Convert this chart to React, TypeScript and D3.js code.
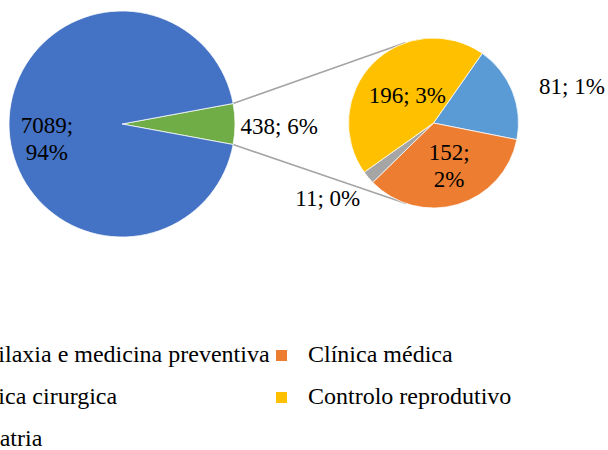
import React from 'react';
import * as d3 from 'd3';

// Main pie: the large category plus the aggregated remainder
const mainCategories = ['Outros', 'Profilaxia e medicina preventiva'];
const mainValues = [438, 7089];
const mainColors = ['#70AD47', '#4472C4'];

// Breakdown of the remainder, drawn in the secondary pie
const subCategories = ['Pediatria', 'Clínica médica', 'Clínica cirurgica', 'Controlo reprodutivo'];
const subValues = [81, 152, 11, 196];
const subColors = ['#5B9BD5', '#ED7D31', '#A5A5A5', '#FFC000'];

// Legend entries (row by row, two columns)
const legendItems = [
  'Profilaxia e medicina preventiva',
  'Clínica médica',
  'Clínica cirurgica',
  'Controlo reprodutivo',
  'Pediatria',
];
const legendColors = ['#4472C4', '#ED7D31', '#A5A5A5', '#FFC000', '#5B9BD5'];

const W = 608;
const H = 450;
const labelStyle: React.CSSProperties = { fontFamily: "'Liberation Serif'", fontSize: 23 };
const legendStyle: React.CSSProperties = { fontFamily: "'Liberation Serif'", fontSize: 24 };

type Pt = { x: number; y: number };

function tangentPoint(p: Pt, c: Pt, r: number, upper: boolean): Pt {
  const dx = p.x - c.x;
  const dy = p.y - c.y;
  const d = Math.hypot(dx, dy);
  const phi = Math.atan2(dy, dx);
  const alpha = Math.acos(r / d);
  const a = upper ? phi + alpha : phi - alpha;
  return { x: c.x + r * Math.cos(a), y: c.y + r * Math.sin(a) };
}

export default function App() {
  const total = d3.sum(mainValues);
  const pctText = (v: number) => `${Math.round((v / total) * 100)}%`;

  // main pie geometry
  const mainC = { x: 122, y: 124 };
  const mainR = 113;
  const otherAngle = (2 * Math.PI * mainValues[0]) / total;
  const mainStart = Math.PI / 2 - otherAngle / 2;
  const mainPie = d3
    .pie<number>()
    .sort(null)
    .startAngle(mainStart)
    .endAngle(mainStart + 2 * Math.PI)(mainValues);
  const mainArc = d3.arc<d3.PieArcDatum<number>>().innerRadius(0).outerRadius(mainR);

  // secondary pie geometry
  const subC = { x: 433.5, y: 123 };
  const subR = 85;
  const subStart = (35 * Math.PI) / 180;
  const subPie = d3
    .pie<number>()
    .sort(null)
    .startAngle(subStart)
    .endAngle(subStart + 2 * Math.PI)(subValues);
  const subArc = d3.arc<d3.PieArcDatum<number>>().innerRadius(0).outerRadius(subR);

  const polar = (c: Pt, r: number, a: number): Pt => ({
    x: c.x + r * Math.sin(a),
    y: c.y - r * Math.cos(a),
  });

  // connector lines from the edges of the aggregated slice to the secondary pie
  const otherSlice = mainPie[0];
  const pTop = polar(mainC, mainR, otherSlice.startAngle);
  const pBot = polar(mainC, mainR, otherSlice.endAngle);
  const tTop = tangentPoint(pTop, subC, subR, true);
  const tBot = tangentPoint(pBot, subC, subR, false);

  // label placement for the secondary slices
  const subLabelLayout: Record<string, { k: number; anchor: string; dx: number; dy: number; split: boolean }> = {
    Pediatria: { k: 1.3, anchor: 'start', dx: 3, dy: 12, split: false },
    'Clínica médica': { k: 0.52, anchor: 'middle', dx: 3, dy: -5, split: true },
    'Clínica cirurgica': { k: 1.2, anchor: 'end', dx: 5, dy: 18, split: false },
    'Controlo reprodutivo': { k: 0.45, anchor: 'middle', dx: 1, dy: 7, split: false },
  };

  const legendRows = [362, 404, 446];
  const legendCols = [-43, 308];

  return (
    <svg width={W} height={H} style={{ position: 'absolute', left: 0, top: 0, background: '#fff' }}>
      <rect width={W} height={H} fill="#fff" />

      {/* connector lines */}
      <line x1={pTop.x} y1={pTop.y} x2={tTop.x} y2={tTop.y} stroke="#A5A5A5" strokeWidth={1.5} />
      <line x1={pBot.x} y1={pBot.y} x2={tBot.x} y2={tBot.y} stroke="#A5A5A5" strokeWidth={1.5} />

      {/* main pie */}
      <g transform={`translate(${mainC.x},${mainC.y})`}>
        {mainPie.map((d, i) => (
          <path key={mainCategories[i]} d={mainArc(d) || ''} fill={mainColors[i]} stroke="#fff" strokeWidth={0.75} />
        ))}
      </g>

      {/* secondary pie */}
      <g transform={`translate(${subC.x},${subC.y})`}>
        {subPie.map((d, i) => (
          <path key={subCategories[i]} d={subArc(d) || ''} fill={subColors[i]} stroke="#fff" strokeWidth={0.75} />
        ))}
      </g>

      {/* main pie labels */}
      {(() => {
        const big = mainPie[1];
        const mid = (big.startAngle + big.endAngle) / 2;
        const p = polar(mainC, mainR * 0.665, mid);
        return (
          <text x={p.x} y={p.y + 9} textAnchor="middle" fill="#000" style={labelStyle}>
            <tspan x={p.x}>{`${mainValues[1]};`}</tspan>
            <tspan x={p.x} dy={27}>{pctText(mainValues[1])}</tspan>
          </text>
        );
      })()}
      {(() => {
        const mid = (otherSlice.startAngle + otherSlice.endAngle) / 2;
        const p = polar(mainC, mainR + 5.5, mid);
        return (
          <text x={p.x} y={p.y + 10} textAnchor="start" fill="#000" style={labelStyle}>
            {`${mainValues[0]}; ${pctText(mainValues[0])}`}
          </text>
        );
      })()}

      {/* secondary pie labels */}
      {subPie.map((d, i) => {
        const name = subCategories[i];
        const lay = subLabelLayout[name];
        const mid = (d.startAngle + d.endAngle) / 2;
        const p = polar(subC, subR * lay.k, mid);
        const x = p.x + lay.dx;
        const y = p.y + lay.dy;
        const v = subValues[i];
        return lay.split ? (
          <text key={name} x={x} y={y} textAnchor={lay.anchor} fill="#000" style={labelStyle}>
            <tspan x={x}>{`${v};`}</tspan>
            <tspan x={x} dy={27}>{pctText(v)}</tspan>
          </text>
        ) : (
          <text key={name} x={x} y={y} textAnchor={lay.anchor} fill="#000" style={labelStyle}>
            {`${v}; ${pctText(v)}`}
          </text>
        );
      })}

      {/* legend */}
      {legendItems.map((name, i) => {
        const row = Math.floor(i / 2);
        const col = i % 2;
        const tx = legendCols[col];
        const by = legendRows[row];
        return (
          <g key={name}>
            <rect x={tx - 32} y={by - 12} width={11} height={11} fill={legendColors[i]} />
            <text x={tx} y={by} fill="#000" style={legendStyle}>
              {name}
            </text>
          </g>
        );
      })}
    </svg>
  );
}
